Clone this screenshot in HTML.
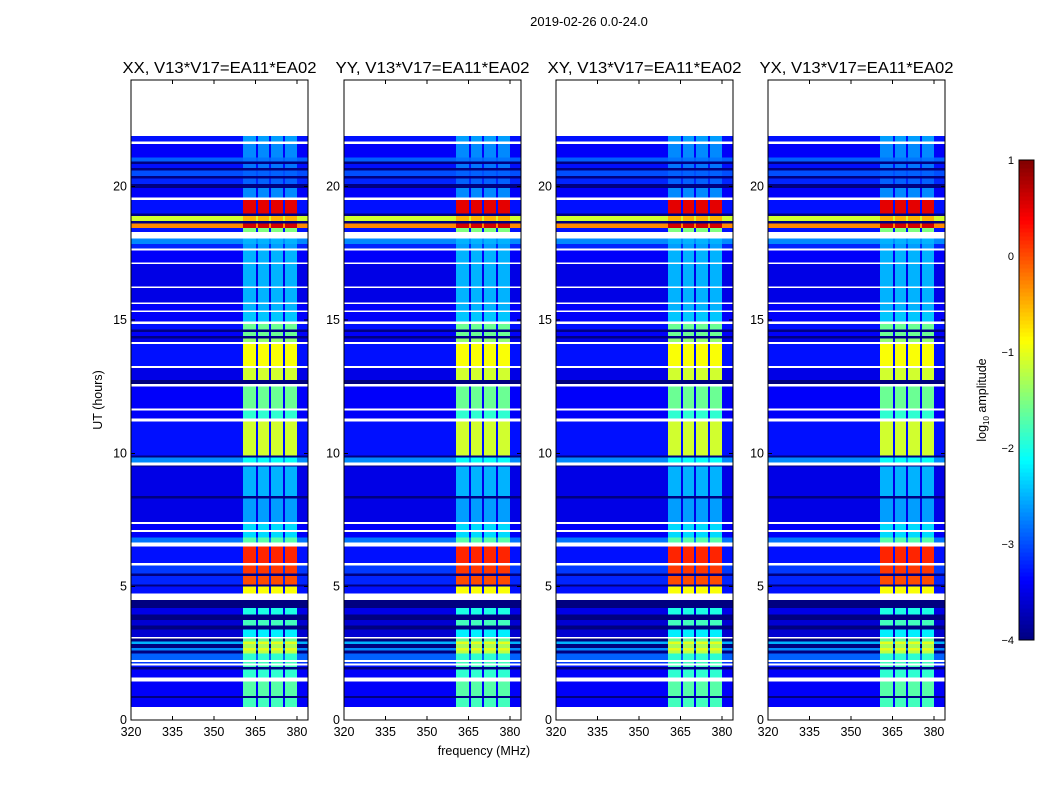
<!DOCTYPE html>
<html><head><meta charset="utf-8">
<style>
body{margin:0;background:#fff;font-family:"Liberation Sans",sans-serif;}
svg text{font-family:"Liberation Sans",sans-serif;}
</style></head>
<body>
<svg id="fig" width="1050" height="800" xmlns="http://www.w3.org/2000/svg" shape-rendering="crispEdges">
<rect width="1050" height="800" fill="#fff"/>
<text x="589" y="26" font-size="13" text-anchor="middle">2019-02-26 0.0-24.0</text>
<text x="484" y="755" font-size="12.5" text-anchor="middle">frequency (MHz)</text>
<text transform="translate(102,400) rotate(-90)" font-size="12.5" text-anchor="middle">UT (hours)</text>
<g id="panels"></g>
<g id="cbar"></g>
</svg>
<script>
const panelTitles = ["XX, V13*V17=EA11*EA02","YY, V13*V17=EA11*EA02","XY, V13*V17=EA11*EA02","YX, V13*V17=EA11*EA02"];
const xTicks = [320,335,350,365,380];
const yTicks = [0,5,10,15,20];
const cbarTicks = [1,0,-1,-2,-3,-4];
const bandStartMHz = 360.5, bandEndMHz = 380;
const gapFreqs = [365.5,370.2,375.3];
const segStart = [0,0.49,0.82,0.9,1.45,1.6,1.9,1.98,2.05,2.12,2.18,2.25,2.5,2.6,2.7,2.85,2.95,3.05,3.12,3.4,3.55,3.75,3.95,4.2,4.5,4.75,5.0,5.08,5.4,5.5,5.8,5.88,6.5,6.65,6.85,7.05,7.12,7.35,7.42,8.3,8.4,9.5,9.55,9.65,9.85,9.92,11.2,11.3,11.6,11.68,12.5,12.6,12.75,13.2,13.27,14.1,14.17,14.3,14.4,14.55,14.65,14.85,14.95,15.3,15.36,15.6,15.65,16.2,16.26,17.1,17.15,17.6,17.68,17.85,18.05,18.3,18.45,18.62,18.72,18.9,19.0,19.5,19.6,19.95,20.1,20.3,20.4,20.6,20.7,20.85,20.95,21.1,21.6,21.7,21.9];
const segEnd = [0.49,0.82,0.9,1.45,1.6,1.9,1.98,2.05,2.12,2.18,2.25,2.5,2.6,2.7,2.85,2.95,3.05,3.12,3.4,3.55,3.75,3.95,4.2,4.5,4.75,5.0,5.08,5.4,5.5,5.8,5.88,6.5,6.65,6.85,7.05,7.12,7.35,7.42,8.3,8.4,9.5,9.55,9.65,9.85,9.92,11.2,11.3,11.6,11.68,12.5,12.6,12.75,13.2,13.27,14.1,14.17,14.3,14.4,14.55,14.65,14.85,14.95,15.3,15.36,15.6,15.65,16.2,16.26,17.1,17.15,17.6,17.68,17.85,18.05,18.3,18.45,18.62,18.72,18.9,19.0,19.5,19.6,19.95,20.1,20.3,20.4,20.6,20.7,20.85,20.95,21.1,21.6,21.7,21.9,24];
const segBg = [null,-3.4,-4,-3.4,null,-3.4,-4,-3.3,null,-3.1,null,-2.9,-4,-2.7,-4,-2.5,-4,null,-3.6,-4,-3.6,-4,-3.5,-4,null,-3.3,-4,-3.2,-4,-3.1,null,-3.3,null,-2.8,-3.4,null,-3.4,null,-3.5,-4,-3.5,-4,null,-2.7,-4,-3.3,null,-3.4,null,-3.4,null,-4,-3.5,null,-3.3,null,-3.5,-4,-3.4,-4,-3.3,null,-3.4,null,-3.4,null,-3.5,null,-3.5,null,-3.4,null,-3.2,-2.7,null,-3.3,-0.3,-4,-1.1,-4,-3.3,null,-3.4,-4,-3.2,-4,-3.0,-4,-3.3,-4,-2.9,-3.4,null,-3.3,null];
const segBand = [null,-1.8,-4,-1.7,null,-1.9,-4,-1.8,null,-1.8,null,-1.9,-1.2,-1.0,-1.3,-1.0,-1.6,null,-2.2,-4,-1.8,-4,-2.0,-4,null,-0.9,-4,0.0,-4,0.1,null,0.2,null,-1.7,-2.3,null,-2.3,null,-2.6,-4,-2.5,-4,null,-2.1,-4,-1.1,null,-1.9,null,-1.6,null,-4,-1.1,null,-0.9,null,-1.4,-4,-1.6,-4,-1.6,null,-2.4,null,-2.5,null,-2.5,null,-2.5,null,-2.5,null,-2.6,-2.5,null,-1.5,0.6,-4,-0.5,-4,0.5,null,-2.7,-4,-2.9,-4,-2.9,-4,-2.8,-4,-2.8,-2.7,null,-2.6,null];

const NS="http://www.w3.org/2000/svg";
const panelX=[131,344,556,768], PW=177, PT=80, PB=720;
const vmin=-4, vmax=1;
function jet(v){let t=(v-vmin)/(vmax-vmin);t=Math.max(0,Math.min(1,t));
 const c=x=>Math.round(255*Math.max(0,Math.min(1,x)));
 return `rgb(${c(1.5-Math.abs(4*t-3))},${c(1.5-Math.abs(4*t-2))},${c(1.5-Math.abs(4*t-1))})`;}
function mk(tag,attrs,parent){const e=document.createElementNS(NS,tag);for(const k in attrs)e.setAttribute(k,attrs[k]);parent.appendChild(e);return e;}
const yS=h=>PB-(h/24)*(PB-PT);
const panels=document.getElementById('panels');
panelTitles.forEach((title,p)=>{
 const x0=panelX[p];const xS=f=>x0+(f-320)/(384-320)*PW;
 const g=mk('g',{},panels);
 
 
 segStart.forEach((s,i)=>{
  if(segBg[i]===null)return;
  const y1=yS(segEnd[i]),y2=yS(s),h=Math.max(1,y2-y1);
  const r=mk('rect',{x:x0,y:y1,width:PW,height:h,fill:jet(segBg[i])},g);
  
  
  if(segBand[i]!==segBg[i]){
   const b=mk('rect',{x:xS(bandStartMHz),y:y1,width:xS(bandEndMHz)-xS(bandStartMHz),height:h,fill:jet(segBand[i])},g);
   
   
   gapFreqs.forEach(f=>{const gp=mk('rect',{x:xS(f)-1,y:y1,width:2,height:h,fill:jet(segBg[i])},g);
    
    });
  }
 });
 const fr=mk('rect',{x:x0,y:PT,width:PW,height:PB-PT,fill:'none',stroke:'#000','stroke-width':1},g);
 
 
 const t=mk('text',{x:x0+PW/2,y:PT-7,'font-size':16,'text-anchor':'middle',textLength:194,lengthAdjust:'spacingAndGlyphs'},g);t.textContent=title;
 
 
 xTicks.forEach(v=>{const x=xS(v);
  mk('line',{x1:x,x2:x,y1:PB,y2:PB-4,stroke:'#000'},g);mk('line',{x1:x,x2:x,y1:PT,y2:PT+4,stroke:'#000'},g);
  const tx=mk('text',{x:x,y:PB+16,'font-size':12.5,'text-anchor':'middle'},g);tx.textContent=v;
  
  });
 yTicks.forEach(v=>{const y=yS(v);
  mk('line',{x1:x0,x2:x0+4,y1:y,y2:y,stroke:'#000'},g);mk('line',{x1:x0+PW,x2:x0+PW-4,y1:y,y2:y,stroke:'#000'},g);
  const ty=mk('text',{x:x0-4,y:y+4,'font-size':12.5,'text-anchor':'end'},g);ty.textContent=v;
  
  });
});
const cb=document.getElementById('cbar');
const cx=1019,cw=15,ct=160,cbt=640;
const cyS=v=>cbt-(v-vmin)/(vmax-vmin)*(cbt-ct);
for(let i=0;i<120;i++){const v0=vmin+i*(vmax-vmin)/120,v1=vmin+(i+1)*(vmax-vmin)/120;
 mk('rect',{x:cx,y:cyS(v1),width:cw,height:cyS(v0)-cyS(v1)+0.5,fill:jet((v0+v1)/2)},cb);}
mk('rect',{x:cx,y:ct,width:cw,height:cbt-ct,fill:'none',stroke:'#000'},cb);
cbarTicks.forEach(v=>{const y=cyS(v);
 const t=mk('text',{x:cx-5,y:y+4,'font-size':11,'text-anchor':'end'},cb);t.textContent=v<0?'\u2212'+(-v):v;
 
 });
const cl=mk('text',{transform:'translate(986,400) rotate(-90)','font-size':12.5,'text-anchor':'middle'},cb);
cl.innerHTML='log<tspan font-size="8" dy="3">10</tspan><tspan dy="-3"> amplitude</tspan>';


</script>
</body></html>
